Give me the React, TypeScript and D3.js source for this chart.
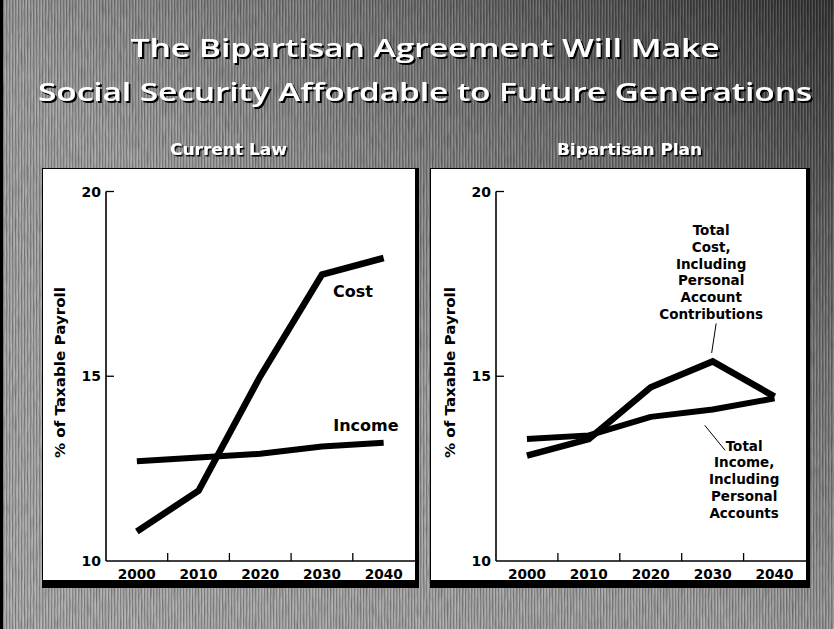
import React from "react";
import * as d3 from "d3";

const W = 834;
const H = 629;

const years = ["2000", "2010", "2020", "2030", "2040"];
const yTicks = [10, 15, 20];
const currentLawCost = [10.8, 11.9, 15.0, 17.75, 18.2];
const currentLawIncome = [12.7, 12.8, 12.9, 13.1, 13.2];
const planCost = [12.85, 13.3, 14.7, 15.4, 14.45];
const planIncome = [13.3, 13.4, 13.9, 14.1, 14.4];

const titleLines = [
  "The Bipartisan Agreement Will Make",
  "Social Security Affordable to Future Generations",
];
const costNote = ["Total", "Cost,", "Including", "Personal", "Account", "Contributions"];
const incomeNote = ["Total", "Income,", "Including", "Personal", "Accounts"];

const FONT = "'DejaVu Sans', Verdana, sans-serif";

type PanelProps = {
  left: number;
  right: number;
  axisX: number;
  heading: string;
  headingX: number;
  headingLen: number;
  cost: number[];
  income: number[];
  mode: "current" | "plan";
};

function Panel(p: PanelProps) {
  const top = 169;
  const bottom = 580;
  const x = d3.scaleBand<string>().domain(years).range([p.axisX, p.right - 0.5]).padding(0);
  const y = d3.scaleLinear().domain([10, 20]).range([561, 191.5]);
  const cx = (i: number) => (x(years[i]) as number) + x.bandwidth() / 2;
  const line = d3
    .line<number>()
    .x((_, i) => cx(i))
    .y((d) => y(d))
    .curve(d3.curveLinear);
  const boundaries = years.slice(1).map((yr) => x(yr) as number);
  const y0 = y(10);

  return (
    <g>
      <rect x={p.left - 1} y={top - 1} width={p.right - p.left + 5} height={bottom - top + 9} fill="#000" />
      <rect x={p.left} y={top} width={p.right - p.left} height={bottom - top} fill="#fff" />
      <text
        x={p.headingX}
        y={155}
        textAnchor="middle"
        fontFamily={FONT}
        fontWeight="bold"
        fontSize={15}
        fill="#fff"
        textLength={p.headingLen}
        lengthAdjust="spacingAndGlyphs"
        filter="url(#shadowSmall)"
      >
        {p.heading}
      </text>
      <line x1={p.axisX} x2={p.axisX} y1={y(20)} y2={y0} stroke="#000" strokeWidth={1.6} />
      <line x1={p.axisX} x2={p.right} y1={y0} y2={y0} stroke="#000" strokeWidth={1.6} />
      {yTicks.map((t) => (
        <g key={t}>
          {t > 10 && <line x1={p.axisX} x2={p.axisX + 8} y1={y(t)} y2={y(t)} stroke="#000" strokeWidth={1.3} />}
          <text x={p.axisX - 5} y={y(t)} dy="0.36em" textAnchor="end" fontFamily={FONT} fontWeight="bold" fontSize={14} fill="#000">
            {t}
          </text>
        </g>
      ))}
      {boundaries.map((b) => (
        <line key={b} x1={b} x2={b} y1={y0} y2={y0 - 8} stroke="#000" strokeWidth={1.3} />
      ))}
      {years.map((yr, i) => (
        <text
          key={yr}
          x={cx(i)}
          y={578.5}
          textAnchor="middle"
          fontFamily={FONT}
          fontWeight="bold"
          fontSize={14.5}
          textLength={38}
          lengthAdjust="spacingAndGlyphs"
          fill="#000"
        >
          {yr}
        </text>
      ))}
      <text
        transform={`translate(${p.axisX - 46},${y(15.1)}) rotate(-90)`}
        textAnchor="middle"
        dy="0.36em"
        fontFamily={FONT}
        fontWeight="bold"
        fontSize={14.5}
        textLength={171}
        lengthAdjust="spacingAndGlyphs"
        fill="#000"
      >
        % of Taxable Payroll
      </text>
      <path d={line(p.income) || ""} fill="none" stroke="#000" strokeWidth={6} strokeLinejoin="round" />
      <path d={line(p.cost) || ""} fill="none" stroke="#000" strokeWidth={6.5} strokeLinejoin="miter" />
      {p.mode === "current" ? (
        <g fontFamily={FONT} fontWeight="bold" fontSize={16} fill="#000" textAnchor="middle">
          <text x={cx(3) + 31} y={y(17.73) + 22}>Cost</text>
          <text x={cx(3) + 44} y={y(13.1) - 15}>Income</text>
        </g>
      ) : (
        <g fontFamily={FONT} fontWeight="bold" fontSize={13.5} fill="#000" textAnchor="middle">
          {costNote.map((s, i) => (
            <text key={"c" + i} x={cx(3) - 1.5} y={235 + i * 16.8}>
              {s}
            </text>
          ))}
          <line x1={cx(3) + 3.5} y1={y(15.4) - 38} x2={cx(3) - 1} y2={y(15.4) - 8.5} stroke="#000" strokeWidth={1} />
          {incomeNote.map((s, i) => (
            <text key={"i" + i} x={cx(3) + 31.5} y={450.5 + i * 16.75}>
              {s}
            </text>
          ))}
          <line x1={cx(2) + 54} y1={y(14.05) + 14} x2={cx(3) + 12.5} y2={y(14.05) + 39} stroke="#000" strokeWidth={1} />
        </g>
      )}
    </g>
  );
}

export default function App() {
  return (
    <div style={{ position: "absolute", left: 0, top: 0, width: W, height: H, overflow: "hidden" }}>
      <svg width={W} height={H} viewBox={`0 0 ${W} ${H}`} style={{ display: "block" }}>
        <defs>
          <linearGradient id="bg" x1="0" y1="1" x2="1" y2="0">
            <stop offset="0" stopColor="#ababab" />
            <stop offset="0.45" stopColor="#a0a0a0" />
            <stop offset="0.72" stopColor="#747474" />
            <stop offset="1" stopColor="#343434" />
          </linearGradient>
          <pattern id="stripes" width="3" height="4" patternUnits="userSpaceOnUse">
            <rect x="0" y="0" width="1" height="4" fill="#000" opacity="0.2" />
            <rect x="2" y="0" width="1" height="4" fill="#fff" opacity="0.15" />
          </pattern>
          <filter id="grain" x="0" y="0" width="100%" height="100%">
            <feTurbulence type="fractalNoise" baseFrequency="0.9 0.06" numOctaves="2" seed="3" result="n" />
            <feColorMatrix type="matrix" values="0 0 0 0 0  0 0 0 0 0  0 0 0 0 0  0 0 0 -1.2 0.75" />
          </filter>
          <filter id="shadow" x="-5%" y="-30%" width="110%" height="160%">
            <feDropShadow dx="2" dy="2" stdDeviation="0.4" floodColor="#000" floodOpacity="1" />
          </filter>
          <filter id="shadowSmall" x="-5%" y="-30%" width="110%" height="160%">
            <feDropShadow dx="1.5" dy="1.5" stdDeviation="0.3" floodColor="#000" floodOpacity="1" />
          </filter>
        </defs>
        <rect x={0} y={0} width={W} height={H} fill="url(#bg)" />
        <rect x={0} y={0} width={W} height={H} fill="url(#stripes)" />
        <rect x={0} y={0} width={W} height={H} filter="url(#grain)" opacity={0.3} />
        <rect x={0} y={0} width={3} height={H} fill="#000" />
        {titleLines.map((t, i) => (
          <text
            key={i}
            x={425}
            y={i === 0 ? 57 : 101}
            fontFamily="'Open Sans', 'DejaVu Sans', sans-serif"
            fontWeight={600}
            fontSize={25.5}
            textAnchor="middle"
            fill="#fff"
            textLength={i === 0 ? 589 : 774}
            lengthAdjust="spacingAndGlyphs"
            filter="url(#shadow)"
          >
            {t}
          </text>
        ))}
        <Panel left={43} right={415} axisX={106} heading="Current Law" headingX={228.5} headingLen={117} cost={currentLawCost} income={currentLawIncome} mode="current" />
        <Panel left={431} right={806} axisX={496} heading="Bipartisan Plan" headingX={629.5} headingLen={145} cost={planCost} income={planIncome} mode="plan" />
      </svg>
    </div>
  );
}
